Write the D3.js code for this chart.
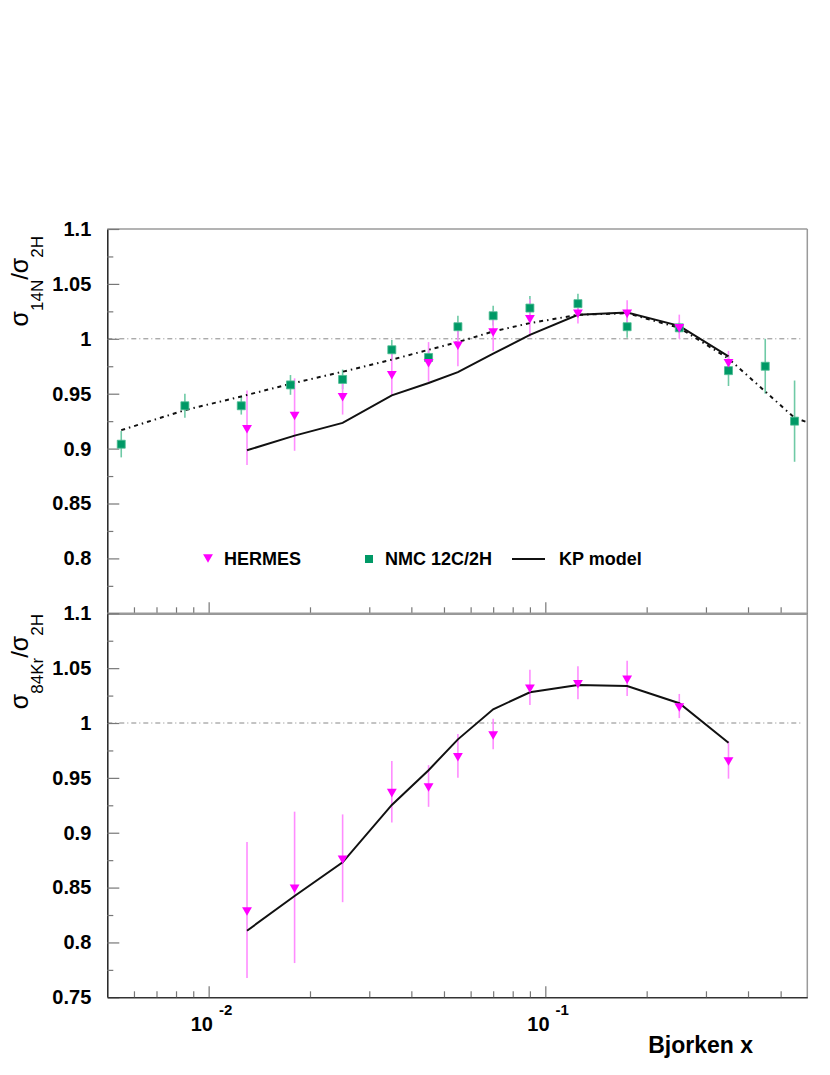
<!DOCTYPE html>
<html><head><meta charset="utf-8">
<script src="https://cdn.jsdelivr.net/npm/d3@7"></script>
<style>
body{margin:0;background:#fff}
svg{display:block}
text{font-family:"Liberation Sans",Arial,Helvetica,sans-serif}
</style>
</head><body>
<svg id="chart" width="830" height="1075"></svg>
<script>
// ---------------- data ----------------
const nmcX   = [0.0055,0.0085,0.0125,0.0175,0.025,0.035,0.045,0.055,0.07,0.09,0.125,0.175,0.25,0.35,0.45,0.55];
const nmcY   = [0.904,0.939,0.939,0.958,0.963,0.990,0.983,1.011,1.021,1.028,1.032,1.011,1.010,0.971,0.975,0.925];
const nmcErr = [0.012,0.011,0.008,0.009,0.009,0.009,0.006,0.010,0.009,0.011,0.009,0.010,0.005,0.014,0.025,0.037];

const dashX  = [0.0055,0.0085,0.0125,0.0175,0.025,0.035,0.045,0.055,0.07,0.09,0.125,0.175,0.25,0.35,0.45,0.55,0.6];
const dashY  = [0.9168,0.935,0.9475,0.959,0.970,0.981,0.990,0.997,1.0067,1.0143,1.0218,1.0233,1.010,0.982,0.952,0.928,0.924];

const hermesX    = [0.013,0.018,0.025,0.035,0.045,0.055,0.07,0.09,0.125,0.175,0.25,0.35];
const hermesN    = [0.919,0.931,0.948,0.968,0.979,0.995,1.007,1.019,1.024,1.024,1.011,0.979];
const hermesNErr = [0.034,0.033,0.017,0.019,0.018,0.020,0.018,0.017,0.010,0.011,0.011,0.010];
const kpN        = [0.8985,0.9118,0.9234,0.9485,0.9597,0.9697,0.9864,1.0036,1.0218,1.0239,1.0118,0.984];

const hermesKr    = [0.8295,0.8502,0.8767,0.9374,0.9426,0.970,0.990,1.0325,1.0367,1.0407,1.0155,0.9663];
const hermesKrErr = [0.062,0.069,0.040,0.028,0.019,0.020,0.014,0.016,0.015,0.016,0.011,0.017];
const kpKr        = [0.8107,0.8423,0.873,0.9253,0.957,0.9851,1.0125,1.028,1.0347,1.0337,1.018,0.982];

const xMajorTicks = [0.01,0.1];
const xMajorExp   = ["-2","-1"];
const xMinorTicks = [0.006,0.007,0.008,0.009,0.02,0.03,0.04,0.05,0.06,0.07,0.08,0.09,0.2,0.3,0.4,0.5];
const yTicksTop    = [0.8,0.85,0.9,0.95,1,1.05,1.1];
const yTicksBottom = [0.75,0.8,0.85,0.9,0.95,1,1.05,1.1];
const yMinorTicks  = [0.775,0.825,0.875,0.925,0.975,1.025,1.075];
const legendLabels = ["HERMES","NMC 12C/2H","KP model"];

// ---------------- layout ----------------
const svg = d3.select("#chart");
const L = 107.3, R = 807.3;
const topT = 229, topB = 613.3, botT = 613.3, botB = 997.3;
const MAG = "#ff00ff", MAGL = "#ff8cff", GRN = "#009966", GRNL = "#6fcaa6";

const x = d3.scaleLog().domain([0.005,0.6]).range([L,R]);
const yTop = d3.scaleLinear().domain([0.75,1.1]).range([topB,topT]);
const yBot = d3.scaleLinear().domain([0.75,1.1]).range([botB,botT]);

function panel(y, yTicks, t, b) {
  const g = svg.append("g");
  g.append("line").attr("x1",L).attr("x2",R-4).attr("y1",y(1)).attr("y2",y(1))
    .attr("stroke","#888").attr("stroke-width",1).attr("stroke-dasharray","5,3,1,3");
  g.append("line").attr("x1",L).attr("x2",R).attr("y1",t).attr("y2",t).attr("stroke","#9a9a9a").attr("stroke-width",1.5);
  g.append("line").attr("x1",R).attr("x2",R).attr("y1",t).attr("y2",b).attr("stroke","#9a9a9a").attr("stroke-width",1.5);
  const ya = g.append("g").attr("transform",`translate(${L},0)`)
    .call(d3.axisLeft(y).tickValues(yTicks).tickSize(-12).tickSizeOuter(0).tickPadding(16).tickFormat(d=>String(d)));
  ya.attr("font-size",null).attr("font-family",null);
  ya.select(".domain").attr("stroke","#222").attr("stroke-width",1.5);
  ya.selectAll(".tick line").attr("stroke","#777").attr("stroke-width",1.2);
  ya.selectAll(".tick text").attr("fill","#000")
    .style("font-size","20px").style("font-weight","bold")
    .style("font-family","'Liberation Sans',Arial,sans-serif");
  const ym = g.append("g").attr("transform",`translate(${L},0)`)
    .call(d3.axisLeft(y).tickValues(yMinorTicks).tickSize(-6).tickSizeOuter(0).tickFormat(""));
  ym.select(".domain").remove();
  ym.selectAll(".tick line").attr("stroke","#777").attr("stroke-width",1.2);
  const xa = g.append("g").attr("transform",`translate(0,${b})`)
    .call(d3.axisBottom(x).tickValues(xMajorTicks).tickSize(-11).tickSizeOuter(0).tickFormat(""));
  xa.attr("font-size",null).attr("font-family",null);
  xa.select(".domain").attr("stroke","#333").attr("stroke-width",1.5);
  xa.selectAll(".tick line").attr("stroke","#777").attr("stroke-width",1.2);
  const xm = g.append("g").attr("transform",`translate(0,${b})`)
    .call(d3.axisBottom(x).tickValues(xMinorTicks).tickSize(-6).tickSizeOuter(0).tickFormat(""));
  xm.select(".domain").remove();
  xm.selectAll(".tick line").attr("stroke","#777").attr("stroke-width",1.2);
  return {g, xa};
}

const P1 = panel(yTop, yTicksTop, topT, topB);
const P2 = panel(yBot, yTicksBottom, botT, botB);

P2.xa.selectAll(".tick").each(function(d,i){
  const t = d3.select(this).append("text").attr("fill","#000").style("font-weight","bold")
    .attr("text-anchor","start").attr("x",-18.5).attr("y",34);
  t.append("tspan").style("font-size","20px").text("10");
  t.append("tspan").style("font-size","15px").attr("dx",6).attr("dy",-16).text(xMajorExp[i]);
});

svg.append("text").attr("x",753).attr("y",1053).attr("text-anchor","end")
  .style("font-size","23px").style("font-weight","bold").text("Bjorken x");

function yTitle(yEnd, sub1) {
  const t = svg.append("text").attr("transform",`translate(28,${yEnd}) rotate(-90)`)
    .attr("text-anchor","end").attr("fill","#000");
  t.append("tspan").style("font-size","25px").text("σ");
  t.append("tspan").style("font-size","17px").attr("dy",15).text(sub1);
  t.append("tspan").style("font-size","24px").attr("dy",-15).text("/");
  t.append("tspan").style("font-size","25px").text("σ");
  t.append("tspan").style("font-size","17px").attr("dy",15).text("2H");
}
yTitle(236,"14N");
yTitle(614,"84Kr");

// ---------------- marks ----------------
const line = (y) => d3.line().x(d=>x(d[0])).y(d=>y(d[1]));
const tri = d3.symbol().type(d3.symbolTriangle).size(42);
const sq  = d3.symbol().type(d3.symbolSquare).size(64);

function errBars(g, xs, ys, es, y, col) {
  g.append("g").selectAll("line").data(xs).join("line")
    .attr("x1",d=>x(d)).attr("x2",d=>x(d))
    .attr("y1",(d,i)=>y(ys[i]+es[i])).attr("y2",(d,i)=>y(ys[i]-es[i]))
    .attr("stroke",col).attr("stroke-width",1.6);
}

const g1 = P1.g;
errBars(g1, nmcX, nmcY, nmcErr, yTop, GRNL);
errBars(g1, hermesX, hermesN, hermesNErr, yTop, MAGL);
g1.append("path").datum(dashX.map((d,i)=>[d,dashY[i]])).attr("d",line(yTop))
  .attr("fill","none").attr("stroke","#111").attr("stroke-width",2).attr("stroke-dasharray","4,4,1.5,4");
g1.append("path").datum(hermesX.map((d,i)=>[d,kpN[i]])).attr("d",line(yTop))
  .attr("fill","none").attr("stroke","#111").attr("stroke-width",2);
g1.append("g").selectAll("path").data(nmcX).join("path")
  .attr("d",sq).attr("transform",(d,i)=>`translate(${x(d)},${yTop(nmcY[i])})`)
  .attr("fill",GRN).attr("stroke","#4dbb92").attr("stroke-width",0.8);
g1.append("g").selectAll("path").data(hermesX).join("path")
  .attr("d",tri).attr("transform",(d,i)=>`translate(${x(d)},${yTop(hermesN[i])}) rotate(180)`)
  .attr("fill",MAG);

const g2 = P2.g;
errBars(g2, hermesX, hermesKr, hermesKrErr, yBot, MAGL);
g2.append("path").datum(hermesX.map((d,i)=>[d,kpKr[i]])).attr("d",line(yBot))
  .attr("fill","none").attr("stroke","#111").attr("stroke-width",2);
g2.append("g").selectAll("path").data(hermesX).join("path")
  .attr("d",tri).attr("transform",(d,i)=>`translate(${x(d)},${yBot(hermesKr[i])}) rotate(180)`)
  .attr("fill",MAG);

const lg = svg.append("g");
lg.append("path").attr("d",tri).attr("transform","translate(208,557) rotate(180)").attr("fill",MAG);
lg.append("path").attr("d",sq).attr("transform","translate(369,559)").attr("fill",GRN);
lg.append("line").attr("x1",512).attr("x2",545).attr("y1",559).attr("y2",559).attr("stroke","#111").attr("stroke-width",2);
[224,385,559].forEach((xx,i)=>{
  lg.append("text").attr("x",xx).attr("y",565).style("font-size","18px").style("font-weight","bold").text(legendLabels[i]);
});
</script>
</body></html>
